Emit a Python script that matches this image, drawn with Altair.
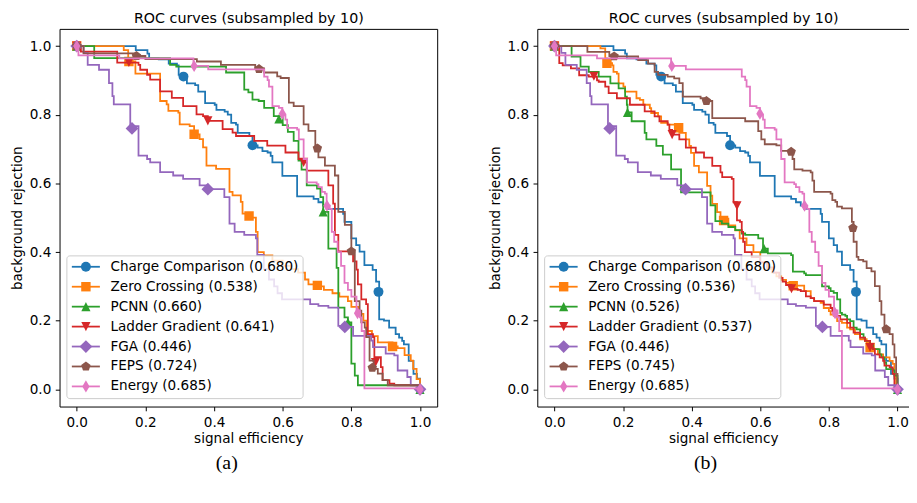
import altair as alt
import pandas as pd

SERIES = ["Charge Comparison", "Zero Crossing", "PCNN", "Ladder Gradient", "FGA", "FEPS", "Energy"]
COLORS = ["#1f77b4", "#ff7f0e", "#2ca02c", "#d62728", "#9467bd", "#8c564b", "#e377c2"]
AUC_A = [0.680, 0.538, 0.660, 0.641, 0.446, 0.724, 0.685]
AUC_B = [0.680, 0.536, 0.526, 0.537, 0.446, 0.745, 0.685]
TICKS = [0.0, 0.2, 0.4, 0.6, 0.8, 1.0]
TITLE = "ROC curves (subsampled by 10)"
XLABEL = "signal efficiency"
YLABEL = "background rejection"
CAPTIONS = ["(a)", "(b)"]

# ---- curves shared by both panels ----
CC_X = [0.0, 0.172, 0.206, 0.211, 0.239, 0.268, 0.292, 0.297, 0.321, 0.345, 0.354, 0.374, 0.402, 0.407, 0.431, 0.440, 0.450, 0.464, 0.469, 0.503, 0.512, 0.527, 0.541, 0.556, 0.565, 0.570, 0.599, 0.642, 0.690, 0.704, 0.718, 0.728, 0.776, 0.780, 0.800, 0.814, 0.824, 0.838, 0.862, 0.872, 0.881, 0.895, 0.910, 0.929, 0.939, 0.948, 0.953, 0.967, 0.981, 0.991, 1.0]
CC_Y = [1.0, 0.988, 0.978, 0.964, 0.961, 0.949, 0.944, 0.916, 0.891, 0.886, 0.867, 0.834, 0.829, 0.814, 0.809, 0.800, 0.776, 0.771, 0.747, 0.738, 0.711, 0.704, 0.694, 0.690, 0.680, 0.661, 0.622, 0.562, 0.555, 0.545, 0.535, 0.526, 0.511, 0.488, 0.440, 0.420, 0.401, 0.362, 0.348, 0.314, 0.204, 0.200, 0.180, 0.161, 0.151, 0.141, 0.131, 0.083, 0.045, 0.031, 0.0]
CC_MX = [0.0, 0.311, 0.512, 0.879]
CC_MY = [1.0, 0.911, 0.711, 0.284]

FGA_X = [0.0, 0.020, 0.032, 0.065, 0.094, 0.104, 0.108, 0.156, 0.180, 0.205, 0.214, 0.243, 0.281, 0.310, 0.358, 0.382, 0.430, 0.445, 0.460, 0.488, 0.522, 0.526, 0.545, 0.560, 0.575, 0.585, 0.598, 0.680, 0.704, 0.733, 0.762, 0.780, 0.805, 0.858, 0.863, 0.900, 0.925, 0.935, 0.963, 0.973, 1.0]
FGA_Y = [1.0, 0.980, 0.945, 0.931, 0.892, 0.854, 0.830, 0.767, 0.681, 0.671, 0.661, 0.633, 0.623, 0.613, 0.594, 0.583, 0.560, 0.483, 0.459, 0.450, 0.440, 0.392, 0.350, 0.320, 0.300, 0.280, 0.262, 0.248, 0.243, 0.238, 0.185, 0.182, 0.156, 0.142, 0.123, 0.104, 0.099, 0.055, 0.036, 0.012, 0.0]
FGA_MX = [0.0, 0.161, 0.382, 0.781, 1.0]
FGA_MY = [1.0, 0.760, 0.583, 0.182, 0.0]

EN_X = [0.0, 0.005, 0.124, 0.340, 0.383, 0.546, 0.556, 0.560, 0.570, 0.589, 0.599, 0.608, 0.613, 0.642, 0.647, 0.661, 0.671, 0.699, 0.704, 0.714, 0.723, 0.728, 0.737, 0.743, 0.750, 0.760, 0.770, 0.780, 0.790, 0.800, 0.815, 0.825, 0.830, 0.838, 1.0]
EN_Y = [1.0, 0.973, 0.964, 0.942, 0.932, 0.911, 0.901, 0.882, 0.825, 0.820, 0.800, 0.786, 0.762, 0.757, 0.728, 0.671, 0.603, 0.598, 0.589, 0.575, 0.570, 0.535, 0.526, 0.459, 0.430, 0.400, 0.360, 0.310, 0.290, 0.270, 0.230, 0.210, 0.170, 0.003, 0.0]
EN_MX = [0.0, 0.342, 0.599, 0.729, 0.818, 1.0]
EN_MY = [1.0, 0.942, 0.803, 0.535, 0.222, 0.0]

# ---- panel (a) ----
ZC_A_X = [0.0, 0.137, 0.150, 0.171, 0.243, 0.262, 0.267, 0.296, 0.300, 0.329, 0.342, 0.358, 0.368, 0.378, 0.406, 0.445, 0.454, 0.478, 0.483, 0.502, 0.522, 0.527, 0.545, 0.570, 0.600, 0.625, 0.645, 0.665, 0.675, 0.700, 0.720, 0.745, 0.765, 0.790, 0.800, 0.820, 0.835, 0.845, 0.860, 0.877, 0.920, 0.935, 0.955, 0.973, 0.980, 0.990, 1.0]
ZC_A_Y = [1.0, 0.988, 0.955, 0.920, 0.840, 0.830, 0.811, 0.806, 0.772, 0.767, 0.743, 0.729, 0.705, 0.652, 0.642, 0.575, 0.565, 0.546, 0.512, 0.500, 0.459, 0.400, 0.390, 0.375, 0.360, 0.350, 0.340, 0.320, 0.306, 0.300, 0.290, 0.280, 0.270, 0.257, 0.240, 0.220, 0.200, 0.170, 0.155, 0.137, 0.125, 0.120, 0.100, 0.084, 0.060, 0.030, 0.0]
ZC_A_MX = [0.0, 0.152, 0.342, 0.502, 0.701, 0.920]
ZC_A_MY = [1.0, 0.955, 0.743, 0.505, 0.303, 0.125]

PC_A_X = [0.0, 0.051, 0.272, 0.290, 0.435, 0.488, 0.500, 0.512, 0.530, 0.546, 0.574, 0.600, 0.615, 0.632, 0.646, 0.655, 0.670, 0.700, 0.710, 0.718, 0.733, 0.757, 0.762, 0.780, 0.790, 0.800, 0.810, 0.819, 1.0]
PC_A_Y = [1.0, 0.965, 0.945, 0.940, 0.923, 0.873, 0.865, 0.844, 0.840, 0.820, 0.796, 0.770, 0.750, 0.724, 0.666, 0.640, 0.594, 0.585, 0.560, 0.517, 0.410, 0.354, 0.238, 0.210, 0.195, 0.075, 0.040, 0.012, 0.0]
PC_A_MX = [0.0, 0.589, 0.718, 0.790, 1.0]
PC_A_MY = [1.0, 0.788, 0.517, 0.195, 0.0]

LG_A_X = [0.0, 0.012, 0.118, 0.180, 0.185, 0.205, 0.214, 0.243, 0.277, 0.310, 0.349, 0.368, 0.382, 0.425, 0.454, 0.464, 0.517, 0.555, 0.608, 0.646, 0.661, 0.670, 0.733, 0.747, 0.752, 0.762, 0.805, 0.815, 0.819, 0.829, 0.843, 0.848, 0.863, 0.867, 0.886, 0.891, 0.911, 0.925, 1.0]
LG_A_Y = [1.0, 0.984, 0.952, 0.945, 0.931, 0.916, 0.902, 0.868, 0.849, 0.825, 0.801, 0.796, 0.782, 0.758, 0.748, 0.738, 0.724, 0.710, 0.690, 0.671, 0.661, 0.637, 0.594, 0.541, 0.450, 0.402, 0.373, 0.349, 0.306, 0.262, 0.248, 0.161, 0.152, 0.094, 0.065, 0.027, 0.017, 0.012, 0.0]
LG_A_MX = [0.0, 0.152, 0.382, 0.661, 0.870]
LG_A_MY = [1.0, 0.952, 0.782, 0.661, 0.078]

FE_A_X = [0.0, 0.020, 0.170, 0.200, 0.350, 0.420, 0.520, 0.546, 0.584, 0.594, 0.618, 0.632, 0.661, 0.675, 0.695, 0.704, 0.723, 0.752, 0.762, 0.781, 0.800, 0.810, 0.824, 0.829, 0.839, 0.843, 0.853, 0.865, 0.877, 0.891, 0.906, 1.0]
FE_A_Y = [1.0, 0.979, 0.971, 0.962, 0.955, 0.945, 0.935, 0.923, 0.912, 0.907, 0.835, 0.825, 0.772, 0.753, 0.710, 0.676, 0.652, 0.623, 0.517, 0.479, 0.400, 0.257, 0.229, 0.195, 0.180, 0.152, 0.084, 0.060, 0.046, 0.027, 0.012, 0.0]
FE_A_MX = [0.0, 0.174, 0.531, 0.701, 0.800, 0.861]
FE_A_MY = [1.0, 0.971, 0.933, 0.702, 0.402, 0.063]

# ---- panel (b) ----
ZC_B_X = [0.0, 0.134, 0.148, 0.153, 0.168, 0.172, 0.182, 0.187, 0.201, 0.206, 0.239, 0.249, 0.259, 0.278, 0.282, 0.302, 0.311, 0.330, 0.364, 0.383, 0.393, 0.398, 0.407, 0.421, 0.445, 0.455, 0.460, 0.474, 0.484, 0.507, 0.527, 0.540, 0.560, 0.580, 0.600, 0.620, 0.635, 0.647, 0.661, 0.675, 0.690, 0.728, 0.747, 0.757, 0.776, 0.785, 0.800, 0.805, 0.814, 0.824, 0.838, 0.853, 0.862, 0.876, 0.891, 0.910, 0.920, 0.929, 0.943, 0.958, 0.977, 0.986, 0.991, 0.996, 1.0]
ZC_B_Y = [1.0, 0.993, 0.964, 0.950, 0.944, 0.925, 0.920, 0.891, 0.882, 0.867, 0.848, 0.843, 0.829, 0.819, 0.805, 0.795, 0.776, 0.771, 0.747, 0.728, 0.709, 0.689, 0.651, 0.632, 0.593, 0.564, 0.540, 0.516, 0.497, 0.478, 0.463, 0.440, 0.420, 0.400, 0.370, 0.350, 0.340, 0.329, 0.319, 0.310, 0.302, 0.286, 0.266, 0.257, 0.252, 0.237, 0.228, 0.218, 0.214, 0.199, 0.194, 0.180, 0.175, 0.161, 0.146, 0.137, 0.122, 0.117, 0.102, 0.093, 0.083, 0.074, 0.045, 0.007, 0.0]
ZC_B_MX = [0.0, 0.153, 0.362, 0.493, 0.696, 0.920]
ZC_B_MY = [1.0, 0.950, 0.762, 0.492, 0.302, 0.122]

PC_B_X = [0.0, 0.050, 0.076, 0.100, 0.129, 0.163, 0.187, 0.206, 0.211, 0.213, 0.225, 0.263, 0.268, 0.297, 0.316, 0.340, 0.369, 0.455, 0.469, 0.488, 0.507, 0.527, 0.546, 0.556, 0.594, 0.608, 0.622, 0.690, 0.695, 0.728, 0.733, 0.780, 0.800, 0.805, 0.814, 0.824, 0.833, 0.838, 0.848, 0.853, 0.862, 0.872, 0.881, 0.891, 0.901, 0.905, 0.920, 0.929, 0.948, 0.953, 0.962, 0.967, 0.987, 0.991, 1.0]
PC_B_Y = [1.0, 0.969, 0.940, 0.925, 0.911, 0.891, 0.877, 0.853, 0.829, 0.807, 0.781, 0.747, 0.728, 0.709, 0.684, 0.641, 0.574, 0.536, 0.490, 0.483, 0.473, 0.464, 0.454, 0.450, 0.440, 0.410, 0.396, 0.391, 0.343, 0.338, 0.333, 0.300, 0.295, 0.286, 0.281, 0.262, 0.223, 0.218, 0.214, 0.204, 0.199, 0.180, 0.175, 0.161, 0.151, 0.141, 0.131, 0.117, 0.102, 0.093, 0.078, 0.059, 0.055, 0.040, 0.0]
PC_B_MX = [0.0, 0.213, 0.611, 1.0]
PC_B_MY = [1.0, 0.807, 0.410, 0.0]

LG_B_X = [0.0, 0.014, 0.024, 0.048, 0.072, 0.100, 0.124, 0.129, 0.148, 0.158, 0.182, 0.220, 0.263, 0.292, 0.306, 0.330, 0.335, 0.343, 0.364, 0.383, 0.412, 0.436, 0.460, 0.484, 0.489, 0.517, 0.522, 0.532, 0.541, 0.546, 0.550, 0.555, 0.575, 0.600, 0.620, 0.640, 0.655, 0.665, 0.675, 0.691, 0.709, 0.718, 0.733, 0.747, 0.757, 0.785, 0.805, 0.810, 0.824, 0.833, 0.853, 0.862, 0.872, 0.891, 0.905, 0.920, 0.929, 0.934, 0.948, 0.958, 0.962, 0.977, 0.986, 0.991, 1.0]
LG_B_Y = [1.0, 0.950, 0.944, 0.935, 0.915, 0.911, 0.900, 0.896, 0.882, 0.863, 0.848, 0.829, 0.810, 0.795, 0.781, 0.771, 0.756, 0.742, 0.728, 0.704, 0.690, 0.675, 0.651, 0.632, 0.618, 0.613, 0.545, 0.492, 0.488, 0.459, 0.430, 0.400, 0.385, 0.370, 0.355, 0.340, 0.325, 0.314, 0.304, 0.293, 0.290, 0.286, 0.271, 0.266, 0.257, 0.247, 0.237, 0.228, 0.214, 0.204, 0.194, 0.180, 0.165, 0.151, 0.141, 0.122, 0.117, 0.102, 0.093, 0.083, 0.069, 0.064, 0.045, 0.007, 0.0]
LG_B_MX = [0.0, 0.115, 0.343, 0.532, 0.691, 0.920]
LG_B_MY = [1.0, 0.912, 0.742, 0.535, 0.293, 0.122]

FE_B_X = [0.0, 0.096, 0.160, 0.244, 0.273, 0.292, 0.302, 0.330, 0.349, 0.364, 0.374, 0.426, 0.443, 0.460, 0.556, 0.594, 0.603, 0.613, 0.647, 0.661, 0.694, 0.699, 0.723, 0.747, 0.752, 0.757, 0.805, 0.810, 0.819, 0.824, 0.838, 0.867, 0.872, 0.881, 0.886, 0.900, 0.910, 0.924, 0.934, 0.948, 0.953, 0.962, 0.967, 0.977, 0.986, 0.991, 0.996, 1.0]
FE_B_Y = [1.0, 0.983, 0.970, 0.959, 0.949, 0.925, 0.916, 0.911, 0.906, 0.892, 0.853, 0.848, 0.840, 0.790, 0.781, 0.752, 0.728, 0.714, 0.711, 0.695, 0.671, 0.641, 0.637, 0.632, 0.608, 0.575, 0.570, 0.551, 0.546, 0.532, 0.527, 0.488, 0.430, 0.386, 0.377, 0.373, 0.353, 0.344, 0.301, 0.257, 0.218, 0.184, 0.175, 0.161, 0.131, 0.093, 0.045, 0.0]
FE_B_MX = [0.0, 0.174, 0.443, 0.690, 0.870, 0.967]
FE_B_MY = [1.0, 0.970, 0.840, 0.692, 0.470, 0.175]

# marker shapes (circle, square, ^, v, D, pentagon, thin diamond) and areas
SHAPES = ["circle", "square", "M0,-1L1,1L-1,1Z", "M0,1L1,-1L-1,-1Z", "M0,-1L1,0L0,1L-1,0Z",
          "M0,-1L0.951,-0.309L0.588,0.809L-0.588,0.809L-0.951,-0.309Z", "M0,-1L0.6,0L0,1L-0.6,0Z"]
SIZES = [100, 90, 85, 85, 165, 100, 150]

FONT = "DejaVu Sans"
FS = 13.7
PW_A, PW_B, PH = 381, 375, 381


def make_panel(curves, marks, aucs, width, xmax, caption, right_frame, cap_dx):
    xs = alt.Scale(domain=[-0.05, xmax], nice=False, zero=False)
    ys = alt.Scale(domain=[-0.05, 1.05], nice=False, zero=False)
    xaxis = alt.Axis(values=TICKS, format=".1f", title=XLABEL, tickSize=4.3, labelPadding=4.5,
                     titlePadding=3, domainWidth=1, tickWidth=1, labelFlush=False)
    yaxis = alt.Axis(values=TICKS, format=".1f", title=YLABEL, tickSize=4.3, labelPadding=4.5,
                     titlePadding=5, domainWidth=1, tickWidth=1, labelFlush=False)
    layers = []
    for k, name in enumerate(SERIES):
        cx, cy = curves[k]
        df = pd.DataFrame({"series": name, "i": list(range(len(cx))), "x": cx, "y": cy})
        first = k == 0
        line = alt.Chart(df).mark_line(interpolate="step-after", strokeWidth=1.8, clip=True,
                                       color=COLORS[k]).encode(
            x=alt.X("x:Q", scale=xs, axis=xaxis if first else None),
            y=alt.Y("y:Q", scale=ys, axis=yaxis if first else None),
            order="i:Q")
        mx, my = marks[k]
        mdf = pd.DataFrame({"series": name, "x": mx, "y": my})
        pts = alt.Chart(mdf).mark_point(filled=True, opacity=1, strokeWidth=0, clip=True,
                                        color=COLORS[k], shape=SHAPES[k], size=SIZES[k]).encode(
            x=alt.X("x:Q", scale=xs, axis=None), y=alt.Y("y:Q", scale=ys, axis=None))
        layers += [line, pts]

    frame_df = pd.DataFrame({"x": [0.0], "y": [0.0]})
    top_axis = alt.Axis(orient="top", labels=False, ticks=False, domain=True, domainWidth=1,
                        title=TITLE, titlePadding=6.5, titleBaseline="alphabetic", titleFontSize=14.4)
    if right_frame:
        yframe = alt.Y("y:Q", scale=ys, axis=alt.Axis(orient="right", labels=False, ticks=False,
                                                       domain=True, domainWidth=1, title=None))
    else:
        yframe = alt.Y("y:Q", scale=ys, axis=None)
    frame = alt.Chart(frame_df).mark_point(opacity=0).encode(
        x=alt.X("x:Q", scale=xs, axis=top_axis), y=yframe)
    inner = alt.layer(*layers, frame).resolve_axis(x="independent", y="independent")

    labels = [f"{s} ({a:.3f})" for s, a in zip(SERIES, aucs)]
    ly = alt.Y("label:N", scale=alt.Scale(type="point", domain=labels, range=[240, 360.7], padding=0), axis=None)
    box = alt.Chart(pd.DataFrame({"a": [0]})).mark_rect(
        fill="white", fillOpacity=0.8, stroke="#cccccc", strokeWidth=1, cornerRadius=3).encode(
        x=alt.value(7.4), x2=alt.value(245.7), y=alt.value(229), y2=alt.value(373))
    leg_layers = [box]
    for k, name in enumerate(SERIES):
        row = pd.DataFrame({"series": [name], "label": [labels[k]]})
        leg_layers.append(alt.Chart(row).mark_rule(strokeWidth=1.8, color=COLORS[k]).encode(
            x=alt.value(12.4), x2=alt.value(40.7), y=ly))
        leg_layers.append(alt.Chart(row).mark_point(filled=True, opacity=1, strokeWidth=0, color=COLORS[k],
                                                    shape=SHAPES[k], size=SIZES[k]).encode(
            x=alt.value(26.6), y=ly))
        leg_layers.append(alt.Chart(row).mark_text(align="left", baseline="middle", font=FONT, fontSize=FS,
                                                   color="black").encode(x=alt.value(51.4), y=ly, text="label:N"))
    legend = alt.layer(*leg_layers)

    return alt.layer(inner, legend).resolve_scale(y="independent").properties(
        width=width, height=PH,
        title=alt.TitleParams(caption, orient="bottom", anchor="middle", frame="bounds", offset=8, dx=cap_dx))


curves_a = [(CC_X, CC_Y), (ZC_A_X, ZC_A_Y), (PC_A_X, PC_A_Y), (LG_A_X, LG_A_Y),
            (FGA_X, FGA_Y), (FE_A_X, FE_A_Y), (EN_X, EN_Y)]
marks_a = [(CC_MX, CC_MY), (ZC_A_MX, ZC_A_MY), (PC_A_MX, PC_A_MY), (LG_A_MX, LG_A_MY),
           (FGA_MX, FGA_MY), (FE_A_MX, FE_A_MY), (EN_MX, EN_MY)]
curves_b = [(CC_X, CC_Y), (ZC_B_X, ZC_B_Y), (PC_B_X, PC_B_Y), (LG_B_X, LG_B_Y),
            (FGA_X, FGA_Y), (FE_B_X, FE_B_Y), (EN_X, EN_Y)]
marks_b = [(CC_MX, CC_MY), (ZC_B_MX, ZC_B_MY), (PC_B_MX, PC_B_MY), (LG_B_MX, LG_B_MY),
           (FGA_MX, FGA_MY), (FE_B_MX, FE_B_MY), (EN_MX, EN_MY)]

panel_a = make_panel(curves_a, marks_a, AUC_A, PW_A, 1.05, CAPTIONS[0], True, 3)
panel_b = make_panel(curves_b, marks_b, AUC_B, PW_B, 1.0335, CAPTIONS[1], False, 7)

chart = alt.hconcat(panel_a, panel_b, spacing=51).properties(
    padding={"left": 2, "top": 0, "right": 0, "bottom": 0}
).configure_view(strokeWidth=0).configure_axis(
    labelFont=FONT, titleFont=FONT, labelFontSize=FS, titleFontSize=FS, titleFontWeight="normal",
    labelColor="black", titleColor="black", domainColor="black", tickColor="black", grid=False
).configure_title(font="Liberation Serif", fontSize=20, fontWeight="normal", color="black")

chart.save("out.html", embed_options={"renderer": "svg", "actions": False})
